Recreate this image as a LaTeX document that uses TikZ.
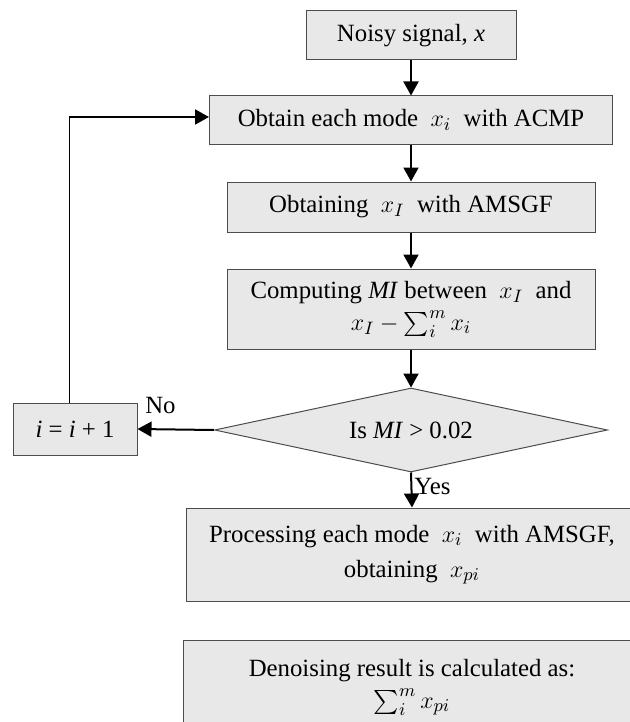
\documentclass[tikz,border=0pt]{standalone}
\usepackage{fontspec}
\setmainfont{Liberation Serif}
\usepackage{amsmath}
\usepackage{tikz}
\usetikzlibrary{shapes.geometric,arrows.meta}

\begin{document}
\begin{tikzpicture}[x=0.5pt,y=-0.5pt,
  font=\fontsize{12.4}{15}\selectfont,
  box/.style={draw=black!70,fill=black!9,line width=0.5pt,align=center,inner sep=0pt},
  decision/.style={diamond,draw=black!70,fill=black!9,line width=0.5pt,inner sep=0pt,aspect=4.7},
  arr/.style={line width=1pt,-{Triangle[length=7pt,width=7.5pt]}}]
  \useasboundingbox (0,0) rectangle (629,722);
  \node[box,minimum width=105pt,minimum height=24.5pt] (noisy) at (411,35.5) {Noisy signal, \textit{x}};
  \node[box,minimum width=201.5pt,minimum height=24pt] (acmp) at (411,120) {Obtain each mode\ \ $x_i$\ \ with ACMP};
  \node[box,minimum width=184pt,minimum height=25pt] (amsgf) at (411,207) {Obtaining\ \ $x_I$\ \ with AMSGF};
  \node[box,minimum width=184pt,minimum height=40pt] (mi) at (411,309) {Computing \textit{MI} between\ \ $x_I$\ \ and\\[1pt] $x_I-\sum_i^m x_i$};
  \node[decision,minimum width=196.5pt,minimum height=42pt] (test) at (411,430) {Is \textit{MI} > 0.02};
  \node[box,minimum width=62pt,minimum height=26pt] (inc) at (75,429) {\textit{i} = \textit{i} + 1};
  \node[box,minimum width=226pt,minimum height=46.5pt] (proc) at (412,554.5) {Processing each mode\ \ $x_i$\ \ with AMSGF,\\[2.5pt] obtaining\ \ $x_{pi}$};
  \node[box,minimum width=229pt,minimum height=47pt] (result) at (412,687) {Denoising result is calculated as:\\[1pt] $\sum_i^m x_{pi}$};
  \coordinate (back) at (69,117);

  \draw[arr] (noisy.south) -- (acmp.north);
  \draw[arr] (acmp.south) -- (amsgf.north);
  \draw[arr] (amsgf.south) -- (mi.north);
  \draw[arr] (mi.south) -- (test.north);
  \draw[arr] (test.west) -- node[above,pos=0.7,yshift=4pt] (no) {No} (inc.east);
  \draw[arr] (test.south) -- node[right,inner sep=1pt,pos=0.4] (yes) {Yes} (proc.north);
  \draw[line width=0.5pt] (back |- inc.north) -- (back);
  \draw[arr] (back) -- (back -| acmp.west);
\end{tikzpicture}
\end{document}
